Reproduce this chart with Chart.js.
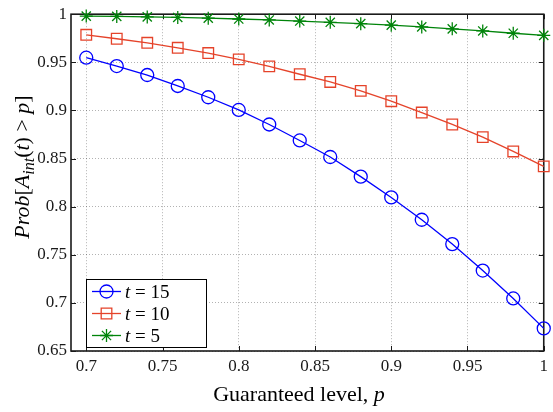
<!DOCTYPE html>
<html>
<head>
<meta charset="utf-8">
<script src="https://cdn.jsdelivr.net/npm/chart.js@4/dist/chart.umd.min.js"></script>
<style>
  html, body { margin: 0; padding: 0; background: #fff; }
  canvas { display: block; }
</style>
</head>
<body>
<canvas id="probChart" width="553" height="412"></canvas>
<script>
// guaranteed level p
const levels = [0.70, 0.72, 0.74, 0.76, 0.78, 0.80, 0.82, 0.84, 0.86, 0.88, 0.90, 0.92, 0.94, 0.96, 0.98, 1.00];

// probability for each time horizon
const probT15 = [0.9548, 0.9461, 0.9368, 0.9254, 0.9137, 0.9005, 0.8854, 0.8688, 0.8516, 0.8312, 0.8096, 0.7864, 0.7611, 0.7336, 0.7046, 0.6735];
const probT10 = [0.9786, 0.9745, 0.9703, 0.9651, 0.9596, 0.9531, 0.9458, 0.9376, 0.9296, 0.9203, 0.9096, 0.8978, 0.8854, 0.8723, 0.8574, 0.8419];
const probT5 = [0.9980, 0.9977, 0.9972, 0.9966, 0.9959, 0.9950, 0.9940, 0.9929, 0.9916, 0.9902, 0.9886, 0.9868, 0.9848, 0.9826, 0.9802, 0.9780];

const seriesLabels = ['15', '10', '5'];

const xTicks = [0.7, 0.75, 0.8, 0.85, 0.9, 0.95, 1];
const yTicks = [0.65, 0.7, 0.75, 0.8, 0.85, 0.9, 0.95, 1];

const SERIF = "'Liberation Serif', 'Times New Roman', serif";
const fmt = v => String(Number(v.toFixed(2)));

function toPoints(ys) {
    return levels.map((x, i) => ({ x: x, y: ys[i] }));
}

// axes box with inward tick marks, drawn like a matlab figure
const frameBox = {
    id: 'frameBox',
    beforeDatasetsDraw(chart) {
        const { ctx, chartArea: a, scales } = chart;
        ctx.save();
        ctx.strokeStyle = '#1a1a1a';
        ctx.lineWidth = 1;
        const len = 5;
        ctx.beginPath();
        xTicks.forEach(v => {
            const px = Math.round(scales.x.getPixelForValue(v)) + 0.5;
            ctx.moveTo(px, a.bottom); ctx.lineTo(px, a.bottom - len);
            ctx.moveTo(px, a.top); ctx.lineTo(px, a.top + len);
        });
        yTicks.forEach(v => {
            const py = Math.round(scales.y.getPixelForValue(v)) + 0.5;
            ctx.moveTo(a.left, py); ctx.lineTo(a.left + len, py);
            ctx.moveTo(a.right, py); ctx.lineTo(a.right - len, py);
        });
        ctx.stroke();
        ctx.lineWidth = 1.6;
        ctx.strokeRect(a.left, a.top, a.right - a.left, a.bottom - a.top);
        ctx.restore();
    }
};

// axis titles and the boxed legend in the lower left corner
const labelsAndLegend = {
    id: 'labelsAndLegend',
    afterDraw(chart) {
        const { ctx, chartArea: a } = chart;
        ctx.save();
        ctx.fillStyle = '#000';
        ctx.textBaseline = 'alphabetic';

        // x title: "Guaranteed level, p"
        const reg = '22px ' + SERIF;
        const ital = 'italic 22px ' + SERIF;
        ctx.font = reg;
        const w1 = ctx.measureText('Guaranteed level, ').width;
        ctx.font = ital;
        const w2 = ctx.measureText('p').width;
        let x0 = 299 - (w1 + w2) / 2;
        ctx.font = reg;
        ctx.fillText('Guaranteed level, ', x0, 401);
        ctx.font = ital;
        ctx.fillText('p', x0 + w1, 401);

        // y title: Prob[A_int(t) > p], rotated
        const parts = [
            { t: 'Prob', f: 'italic 22px ' + SERIF, dy: 0 },
            { t: '[', f: '22px ' + SERIF, dy: 0 },
            { t: 'A', f: 'italic 22px ' + SERIF, dy: 0 },
            { t: 'int', f: 'italic 16px ' + SERIF, dy: 5 },
            { t: '(', f: '22px ' + SERIF, dy: 0 },
            { t: 't', f: 'italic 22px ' + SERIF, dy: 0 },
            { t: ') > ', f: '22px ' + SERIF, dy: 0 },
            { t: 'p', f: 'italic 22px ' + SERIF, dy: 0 },
            { t: ']', f: '22px ' + SERIF, dy: 0 }
        ];
        let total = 0;
        parts.forEach(p => { ctx.font = p.f; p.w = ctx.measureText(p.t).width; total += p.w; });
        ctx.translate(29, 167);
        ctx.rotate(-Math.PI / 2);
        let cx = -total / 2;
        parts.forEach(p => { ctx.font = p.f; ctx.fillText(p.t, cx, p.dy); cx += p.w; });
        ctx.setTransform(1, 0, 0, 1, 0, 0);

        // legend box
        const bx = 86, by = 279, bw = 120, bh = 68;
        ctx.fillStyle = '#fff';
        ctx.fillRect(bx, by, bw, bh);
        ctx.strokeStyle = '#000';
        ctx.lineWidth = 1;
        ctx.strokeRect(bx + 0.5, by + 0.5, bw, bh);
        chart.data.datasets.forEach((ds, i) => {
            const ly = 291.5 + i * 22;
            ctx.strokeStyle = ds.borderColor;
            ctx.lineWidth = ds.borderWidth;
            ctx.beginPath();
            ctx.moveTo(92, ly); ctx.lineTo(121, ly);
            ctx.stroke();
            // hollow marker on top of the sample line
            ctx.fillStyle = 'rgba(0,0,0,0)';
            Chart.helpers.drawPoint(ctx, {
                pointStyle: ds.pointStyle,
                radius: ds.pointRadius,
                rotation: 0,
                borderWidth: ds.pointBorderWidth
            }, 106.5, ly);
            ctx.fillStyle = '#000';
            ctx.font = 'italic 19px ' + SERIF;
            ctx.fillText('t', 125, ly + 6);
            const tw = ctx.measureText('t').width;
            ctx.font = '19px ' + SERIF;
            ctx.fillText(' = ' + seriesLabels[i], 125 + tw, ly + 6);
        });
        ctx.restore();
    }
};

const ctx = document.getElementById('probChart').getContext('2d');
const probChart = new Chart(ctx, {
    type: 'line',
    data: {
        datasets: [
            {
                label: 't = 15',
                data: toPoints(probT15),
                borderColor: '#0000ff',
                borderWidth: 1.3,
                pointStyle: 'circle',
                pointRadius: 6.5,
                pointBorderWidth: 1.3,
                pointBackgroundColor: 'rgba(0,0,0,0)',
                pointBorderColor: '#0000ff'
            },
            {
                label: 't = 10',
                data: toPoints(probT10),
                borderColor: '#e5432a',
                borderWidth: 1.3,
                pointStyle: 'rect',
                pointRadius: 7.5,
                pointBorderWidth: 1.3,
                pointBackgroundColor: 'rgba(0,0,0,0)',
                pointBorderColor: '#e5432a'
            },
            {
                label: 't = 5',
                data: toPoints(probT5),
                borderColor: '#00840a',
                borderWidth: 1.3,
                pointStyle: 'star',
                pointRadius: 6.5,
                pointBorderWidth: 1.3,
                pointBackgroundColor: 'rgba(0,0,0,0)',
                pointBorderColor: '#00840a'
            }
        ]
    },
    options: {
        responsive: false,
        animation: false,
        clip: false,
        layout: { padding: { left: 0, right: 2, top: 13, bottom: 0 } },
        plugins: {
            legend: { display: false },
            tooltip: { enabled: false }
        },
        elements: { line: { tension: 0 } },
        scales: {
            x: {
                type: 'linear',
                min: 0.69,
                max: 1,
                afterBuildTicks: s => { s.ticks = xTicks.map(v => ({ value: v })); },
                afterFit: s => { s.height = 61; },
                ticks: {
                    autoSkip: false,
                    maxRotation: 0,
                    padding: 5,
                    color: '#1a1a1a',
                    font: { family: SERIF, size: 17 },
                    callback: v => fmt(v)
                },
                grid: { color: 'rgba(0,0,0,0.3)', lineWidth: 1, drawTicks: false },
                border: { display: false, dash: [1, 2] }
            },
            y: {
                min: 0.65,
                max: 1,
                afterBuildTicks: s => { s.ticks = yTicks.map(v => ({ value: v })); },
                afterFit: s => { s.width = 71; },
                ticks: {
                    autoSkip: false,
                    padding: 4,
                    color: '#1a1a1a',
                    font: { family: SERIF, size: 17 },
                    callback: v => fmt(v)
                },
                grid: { color: 'rgba(0,0,0,0.3)', lineWidth: 1, drawTicks: false },
                border: { display: false, dash: [1, 2] }
            }
        }
    },
    plugins: [frameBox, labelsAndLegend]
});
</script>
</body>
</html>
